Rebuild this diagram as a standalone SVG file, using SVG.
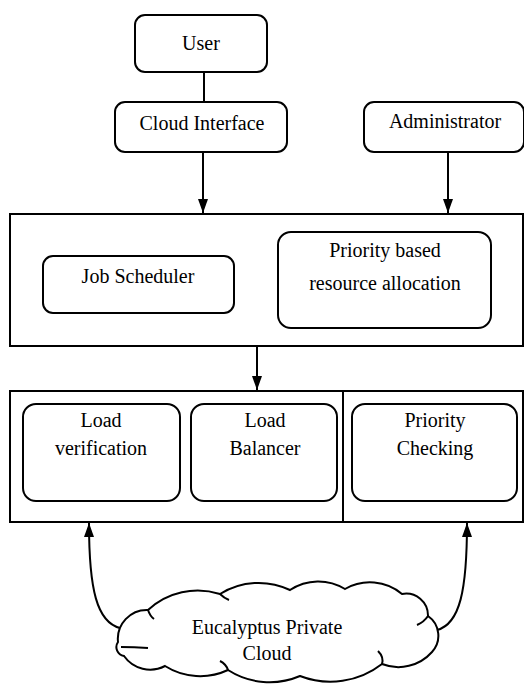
<svg xmlns="http://www.w3.org/2000/svg" width="524" height="689" viewBox="0 0 524 689">
<style>
.box{fill:#fff;stroke:#000;stroke-width:2}
.frame{fill:#fff;stroke:#000;stroke-width:2}
.ln{fill:none;stroke:#000;stroke-width:2}
.t{font-family:'Liberation Serif','DejaVu Serif',serif;font-size:20px;fill:#000;text-anchor:middle}
</style>
<defs>
<marker id="ad" viewBox="0 0 10 14" refX="5" refY="14" markerWidth="10" markerHeight="14" markerUnits="userSpaceOnUse" orient="0">
<path d="M0,0 L10,0 L5,14 Z" fill="#000"/>
</marker>
<marker id="au" viewBox="0 0 10 14" refX="5" refY="0" markerWidth="10" markerHeight="14" markerUnits="userSpaceOnUse" orient="0">
<path d="M5,0 L10,14 L0,14 Z" fill="#000"/>
</marker>
</defs>
<g id="connectors">
<line class="ln" x1="204" y1="72" x2="204" y2="102"/>
<line class="ln" x1="203" y1="152" x2="203" y2="213" marker-end="url(#ad)"/>
<line class="ln" x1="448" y1="152" x2="448" y2="213" marker-end="url(#ad)"/>
<line class="ln" x1="257" y1="346" x2="257" y2="390" marker-end="url(#ad)"/>
<path class="ln" d="M120,628 C97,622 89,590 89,523" marker-end="url(#au)"/>
<path class="ln" d="M437,630 C460,624 467,590 467,523" marker-end="url(#au)"/>
</g>
<g id="user">
<rect class="box" x="135" y="15" width="132" height="57" rx="10"/>
<text class="t" x="201" y="50" font-family="Liberation Serif, serif">User</text>
</g>
<g id="cloud-interface">
<rect class="box" x="115" y="102" width="172" height="50" rx="10"/>
<text class="t" x="202" y="130">Cloud Interface</text>
</g>
<g id="administrator">
<rect class="box" x="364" y="102" width="160" height="50" rx="10"/>
<text class="t" x="445" y="128">Administrator</text>
</g>
<g id="scheduler-frame">
<rect class="frame" x="10" y="214" width="513" height="132"/>
</g>
<g id="job-scheduler">
<rect class="box" x="43" y="256" width="191" height="57" rx="10"/>
<text class="t" x="138" y="283">Job Scheduler</text>
</g>
<g id="priority-allocation">
<rect class="box" x="278" y="232" width="213" height="96" rx="13"/>
<text class="t" x="385" y="257">Priority based</text>
<text class="t" x="385" y="290">resource allocation</text>
</g>
<g id="balancing-frame">
<rect class="frame" x="10" y="391" width="513" height="131"/>
<line class="ln" x1="343" y1="391" x2="343" y2="522"/>
</g>
<g id="load-verification">
<rect class="box" x="23" y="404" width="157" height="97" rx="13"/>
<text class="t" x="101" y="427">Load</text>
<text class="t" x="101" y="455">verification</text>
</g>
<g id="load-balancer">
<rect class="box" x="191" y="404" width="146" height="97" rx="13"/>
<text class="t" x="265" y="427">Load</text>
<text class="t" x="265" y="455">Balancer</text>
</g>
<g id="priority-checking">
<rect class="box" x="352" y="404" width="165" height="97" rx="13"/>
<text class="t" x="435" y="427">Priority</text>
<text class="t" x="435" y="455">Checking</text>
</g>
<g id="eucalyptus-cloud">
<path class="box" d="M118,642 A29,29 0 0 1 148,610 A73,73 0 0 1 220,594 A73,73 0 0 1 290,590 A51,51 0 0 1 345,589 A50,50 0 0 1 402,594 A22,22 0 0 1 428,616 A24,24 0 0 1 432,652 A45,45 0 0 1 382,664 A84,84 0 0 1 300,676 A77,77 0 0 1 228,670 A66,66 0 0 1 165,666 A32,32 0 0 1 124,656 A9,9 0 0 1 118,642 Z"/>
<path class="ln" d="M121,647 Q134,647 148,648"/>
<path class="ln" d="M148,610 Q150,616 154,619"/>
<path class="ln" d="M220,594 Q224,598 229,600"/>
<path class="ln" d="M428,616 Q424,622 417,625"/>
<path class="ln" d="M382,664 Q384,657 378,651"/>
<path class="ln" d="M228,670 Q226,664 220,661"/>
<text class="t" x="267" y="634">Eucalyptus Private</text>
<text class="t" x="267" y="660">Cloud</text>
</g>
</svg>
